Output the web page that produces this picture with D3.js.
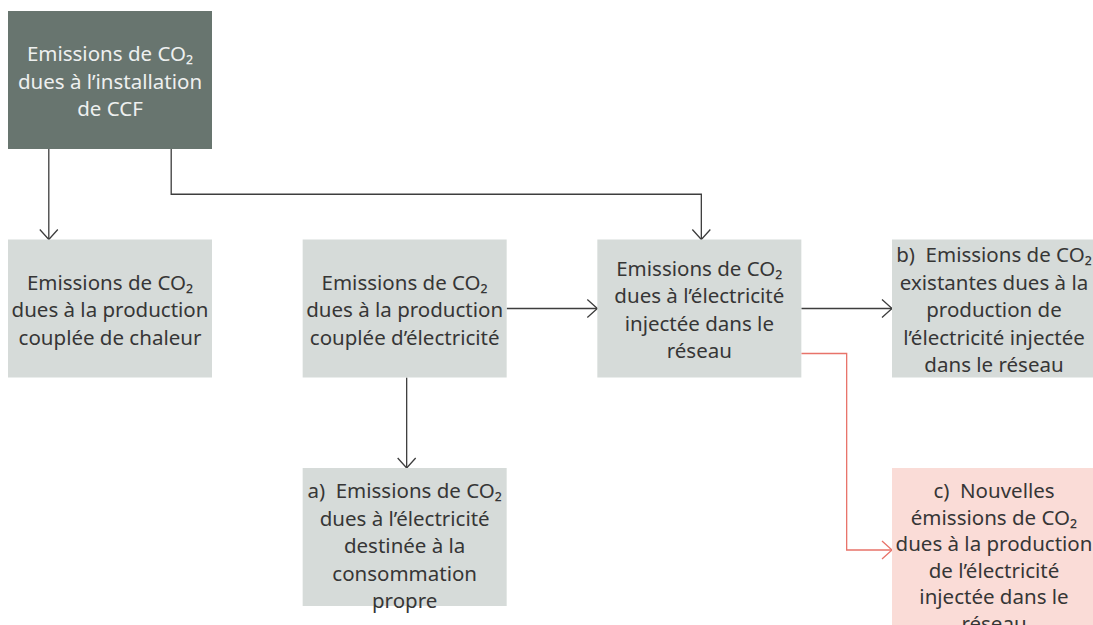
<!DOCTYPE html>
<html>
<head>
<meta charset="utf-8">
<script src="https://cdn.jsdelivr.net/npm/d3@7"></script>
<style>
  body { margin: 0; background: #fff; }
  svg { display: block; }
  .label { font-family: "Noto Sans", sans-serif; font-size: 20.5px; }
</style>
</head>
<body>
<script>
  // nodes of the diagram: id, column, row, text lines, kind
  const nodeIds = ['ccf', 'chaleur', 'elec', 'reseau', 'existantes', 'propre', 'nouvelles'];
  const nodeCols = [0, 0, 1, 2, 3, 1, 3];
  const nodeRows = [0, 1, 1, 1, 1, 2, 2];
  const nodeKinds = ['dark', 'light', 'light', 'light', 'light', 'light', 'red'];
  const nodeLabels = [
    ['Emissions de CO₂', 'dues à l’installation', 'de CCF'],
    ['Emissions de CO₂', 'dues à la production', 'couplée de chaleur'],
    ['Emissions de CO₂', 'dues à la production', 'couplée d’électricité'],
    ['Emissions de CO₂', 'dues à l’électricité', 'injectée dans le', 'réseau'],
    ['b)\u00a0 Emissions de CO₂', 'existantes dues à la', 'production de', 'l’électricité injectée', 'dans le réseau'],
    ['a)\u00a0 Emissions de CO₂', 'dues à l’électricité', 'destinée à la', 'consommation', 'propre'],
    ['c)\u00a0 Nouvelles', 'émissions de CO₂', 'dues à la production', 'de l’électricité', 'injectée dans le', 'réseau'],
  ];

  // links: from, to, route style
  const linkFrom = ['ccf', 'ccf', 'elec', 'reseau', 'elec', 'reseau'];
  const linkTo = ['chaleur', 'reseau', 'reseau', 'existantes', 'propre', 'nouvelles'];
  const linkTypes = ['down-left', 'elbow-down', 'right', 'right', 'down', 'red-elbow'];

  const width = 1093;
  const height = 625;
  const boxW = 204;
  const boxH = 138;

  const fills = { dark: '#68756f', light: '#d6dbd9', red: '#fadcd7' };
  const textFill = { dark: '#eef0ef', light: '#363636', red: '#363636' };

  const x = d3.scaleLinear().domain([0, 3]).range([8, 892]);
  const y = d3.scaleLinear().domain([0, 2]).range([11, 468]);

  const nodes = nodeIds.map((id, i) => ({
    id,
    col: nodeCols[i],
    row: nodeRows[i],
    kind: nodeKinds[i],
    lines: nodeLabels[i],
  }));
  nodes.forEach((n) => {
    n.x = x(n.col);
    n.y = y(n.row);
    n.w = boxW;
    n.h = n.kind === 'red' ? 180 : boxH;
    n.lh = n.kind === 'red' ? 26.6 : 27.5;
  });
  const byId = {};
  nodes.forEach((n) => { byId[n.id] = n; });

  const svg = d3
    .select('body')
    .append('svg')
    .attr('width', width)
    .attr('height', height);

  const defs = svg.append('defs');
  [['arrowDark', '#3d3d3d'], ['arrowRed', '#e8736a']].forEach(([id, col]) => {
    defs.append('marker')
      .attr('id', id)
      .attr('viewBox', '-12 -10 14 20')
      .attr('refX', 0)
      .attr('refY', 0)
      .attr('markerWidth', 14)
      .attr('markerHeight', 20)
      .attr('markerUnits', 'userSpaceOnUse')
      .attr('orient', 'auto')
      .append('path')
      .attr('d', 'M-10,-9L0,0L-10,9')
      .attr('fill', 'none')
      .attr('stroke', col)
      .attr('stroke-width', 1.3);
  });

  function route(type, a, b) {
    const line = d3.line();
    if (type === 'down-left') {
      const px = a.x + a.w * 0.2;
      return line([[px, a.y + a.h], [px, b.y]]);
    }
    if (type === 'elbow-down') {
      const px = a.x + a.w * 0.8;
      const midY = (a.y + a.h + b.y) / 2;
      const bx = b.x + b.w / 2 + 2;
      return line([[px, a.y + a.h], [px, midY], [bx, midY], [bx, b.y]]);
    }
    if (type === 'right') {
      const py = b.y + b.h / 2;
      return line([[a.x + a.w, py], [b.x, py]]);
    }
    if (type === 'down') {
      const px = a.x + a.w / 2 + 2;
      return line([[px, a.y + a.h], [px, b.y]]);
    }
    // red elbow from lower right of a to b
    const sy = a.y + a.h - 24;
    const mx = (a.x + a.w + b.x) / 2;
    const ey = b.y + 82;
    return line([[a.x + a.w, sy], [mx, sy], [mx, ey], [b.x, ey]]);
  }

  const links = linkFrom.map((f, i) => ({ a: byId[f], b: byId[linkTo[i]], type: linkTypes[i] }));

  svg.append('g')
    .selectAll('path')
    .data(links)
    .join('path')
    .attr('d', (d) => route(d.type, d.a, d.b))
    .attr('fill', 'none')
    .attr('stroke', (d) => (d.type === 'red-elbow' ? '#e8736a' : '#3d3d3d'))
    .attr('stroke-width', 1.3)
    .attr('marker-end', (d) => (d.type === 'red-elbow' ? 'url(#arrowRed)' : 'url(#arrowDark)'));

  const node = svg.append('g')
    .selectAll('g')
    .data(nodes)
    .join('g')
    .attr('transform', (d) => `translate(${d.x},${d.y})`);

  node.append('rect')
    .attr('width', (d) => d.w)
    .attr('height', (d) => d.h)
    .attr('fill', (d) => fills[d.kind]);

  node.append('text')
    .attr('class', 'label')
    .attr('text-anchor', 'middle')
    .attr('fill', (d) => textFill[d.kind])
    .each(function (d) {
      const t = d3.select(this);
      // bottom row is top aligned, others centered
      const firstY = d.row === 2
        ? 30
        : boxH / 2 - ((d.lines.length - 1) * d.lh) / 2 + 8.5;
      d.lines.forEach((l, i) => {
        t.append('tspan')
          .attr('x', d.w / 2)
          .attr('y', firstY + i * d.lh)
          .text(l);
      });
    });
</script>
</body>
</html>
